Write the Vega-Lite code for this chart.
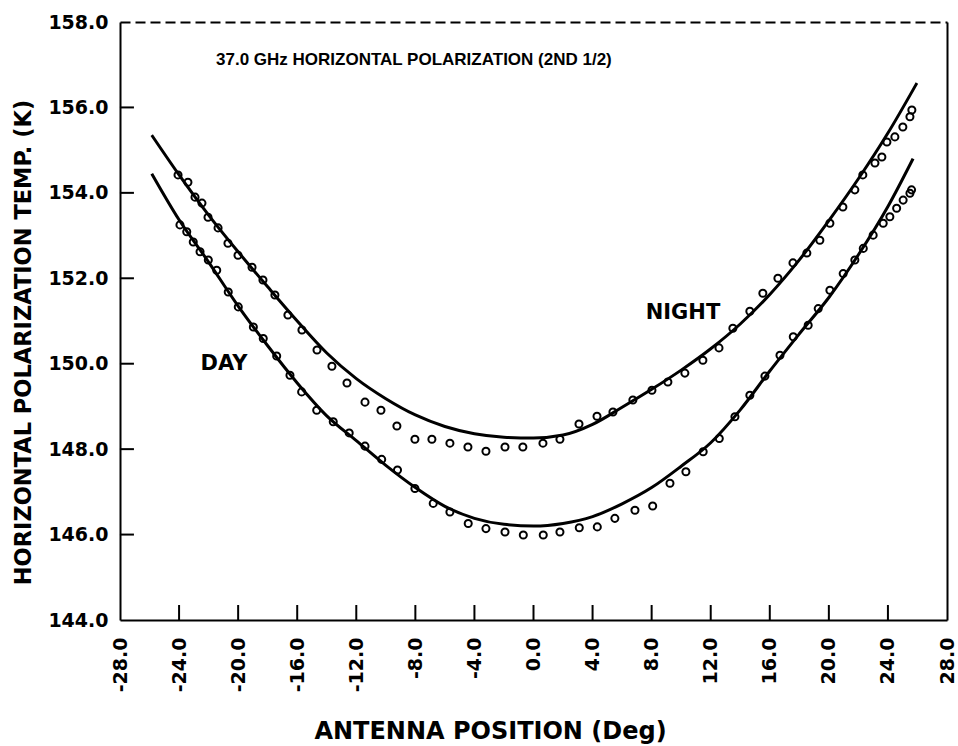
{
  "$schema": "https://vega.github.io/schema/vega-lite/v6.json",
  "width": 827,
  "height": 598,
  "autosize": {"type": "none"},
  "padding": {"left": 120, "top": 22, "right": 11, "bottom": 126},
  "background": "white",
  "config": {"view": {"stroke": null}, "font": "DejaVu Sans"},
  "datasets": {
    "fits": [
      {"series": "Night", "x": -25.85, "y": 155.35},
      {"series": "Night", "x": -24, "y": 154.42},
      {"series": "Night", "x": -22, "y": 153.48},
      {"series": "Night", "x": -20, "y": 152.62},
      {"series": "Night", "x": -18, "y": 151.8},
      {"series": "Night", "x": -16, "y": 151.0},
      {"series": "Night", "x": -14, "y": 150.25},
      {"series": "Night", "x": -12, "y": 149.65},
      {"series": "Night", "x": -10, "y": 149.18},
      {"series": "Night", "x": -8, "y": 148.8},
      {"series": "Night", "x": -6, "y": 148.53},
      {"series": "Night", "x": -4, "y": 148.36},
      {"series": "Night", "x": -2, "y": 148.28},
      {"series": "Night", "x": 0, "y": 148.26},
      {"series": "Night", "x": 2, "y": 148.33},
      {"series": "Night", "x": 4, "y": 148.58},
      {"series": "Night", "x": 6, "y": 148.98},
      {"series": "Night", "x": 8, "y": 149.4},
      {"series": "Night", "x": 10, "y": 149.85},
      {"series": "Night", "x": 12, "y": 150.35},
      {"series": "Night", "x": 14, "y": 150.93},
      {"series": "Night", "x": 16, "y": 151.62},
      {"series": "Night", "x": 18, "y": 152.43},
      {"series": "Night", "x": 20, "y": 153.35},
      {"series": "Night", "x": 22, "y": 154.33},
      {"series": "Night", "x": 24, "y": 155.4},
      {"series": "Night", "x": 25.96, "y": 156.57},
      {"series": "Day", "x": -25.85, "y": 154.45},
      {"series": "Day", "x": -24, "y": 153.37},
      {"series": "Day", "x": -22, "y": 152.38},
      {"series": "Day", "x": -20, "y": 151.35},
      {"series": "Day", "x": -18, "y": 150.42},
      {"series": "Day", "x": -16, "y": 149.55},
      {"series": "Day", "x": -14, "y": 148.78},
      {"series": "Day", "x": -12, "y": 148.2},
      {"series": "Day", "x": -10, "y": 147.62},
      {"series": "Day", "x": -8, "y": 147.1},
      {"series": "Day", "x": -6, "y": 146.66},
      {"series": "Day", "x": -4, "y": 146.38},
      {"series": "Day", "x": -2, "y": 146.24},
      {"series": "Day", "x": 0, "y": 146.2},
      {"series": "Day", "x": 2, "y": 146.26},
      {"series": "Day", "x": 4, "y": 146.42},
      {"series": "Day", "x": 6, "y": 146.72},
      {"series": "Day", "x": 8, "y": 147.1},
      {"series": "Day", "x": 10, "y": 147.6},
      {"series": "Day", "x": 12, "y": 148.15},
      {"series": "Day", "x": 14, "y": 148.92},
      {"series": "Day", "x": 16, "y": 149.83},
      {"series": "Day", "x": 18, "y": 150.7},
      {"series": "Day", "x": 20, "y": 151.55},
      {"series": "Day", "x": 22, "y": 152.55},
      {"series": "Day", "x": 24, "y": 153.68},
      {"series": "Day", "x": 25.7, "y": 154.8}
    ],
    "obs": [
      {"series": "Night", "x": -24.07, "y": 154.42},
      {"series": "Night", "x": -23.4, "y": 154.25},
      {"series": "Night", "x": -22.92, "y": 153.9},
      {"series": "Night", "x": -22.45, "y": 153.76},
      {"series": "Night", "x": -22.04, "y": 153.43},
      {"series": "Night", "x": -21.36, "y": 153.18},
      {"series": "Night", "x": -20.69, "y": 152.82},
      {"series": "Night", "x": -20.01, "y": 152.54},
      {"series": "Night", "x": -19.06, "y": 152.26},
      {"series": "Night", "x": -18.32, "y": 151.96},
      {"series": "Night", "x": -17.51, "y": 151.61},
      {"series": "Night", "x": -16.63, "y": 151.14},
      {"series": "Night", "x": -15.68, "y": 150.79},
      {"series": "Night", "x": -14.66, "y": 150.32},
      {"series": "Night", "x": -13.65, "y": 149.94},
      {"series": "Night", "x": -12.63, "y": 149.55},
      {"series": "Night", "x": -11.41, "y": 149.1},
      {"series": "Night", "x": -10.33, "y": 148.91},
      {"series": "Night", "x": -9.25, "y": 148.54},
      {"series": "Night", "x": -8.03, "y": 148.23},
      {"series": "Night", "x": -6.88, "y": 148.23},
      {"series": "Night", "x": -5.66, "y": 148.14},
      {"series": "Night", "x": -4.44, "y": 148.05},
      {"series": "Night", "x": -3.22, "y": 147.95},
      {"series": "Night", "x": -1.93, "y": 148.05},
      {"series": "Night", "x": -0.72, "y": 148.05},
      {"series": "Night", "x": 0.64, "y": 148.14},
      {"series": "Night", "x": 1.79, "y": 148.23},
      {"series": "Night", "x": 3.08, "y": 148.59},
      {"series": "Night", "x": 4.3, "y": 148.77},
      {"series": "Night", "x": 5.38, "y": 148.87},
      {"series": "Night", "x": 6.73, "y": 149.15},
      {"series": "Night", "x": 8.02, "y": 149.38},
      {"series": "Night", "x": 9.1, "y": 149.57},
      {"series": "Night", "x": 10.25, "y": 149.78},
      {"series": "Night", "x": 11.47, "y": 150.08},
      {"series": "Night", "x": 12.56, "y": 150.37},
      {"series": "Night", "x": 13.5, "y": 150.83},
      {"series": "Night", "x": 14.65, "y": 151.23},
      {"series": "Night", "x": 15.53, "y": 151.65},
      {"series": "Night", "x": 16.55, "y": 152.0},
      {"series": "Night", "x": 17.57, "y": 152.36},
      {"series": "Night", "x": 18.51, "y": 152.59},
      {"series": "Night", "x": 19.39, "y": 152.89},
      {"series": "Night", "x": 20.07, "y": 153.29},
      {"series": "Night", "x": 20.95, "y": 153.67},
      {"series": "Night", "x": 21.76, "y": 154.07},
      {"series": "Night", "x": 22.3, "y": 154.42},
      {"series": "Night", "x": 23.12, "y": 154.7},
      {"series": "Night", "x": 23.59, "y": 154.84},
      {"series": "Night", "x": 23.93, "y": 155.19},
      {"series": "Night", "x": 24.47, "y": 155.31},
      {"series": "Night", "x": 25.01, "y": 155.54},
      {"series": "Night", "x": 25.49, "y": 155.78},
      {"series": "Night", "x": 25.62, "y": 155.94},
      {"series": "Day", "x": -23.94, "y": 153.25},
      {"series": "Day", "x": -23.48, "y": 153.09},
      {"series": "Day", "x": -23.04, "y": 152.85},
      {"series": "Day", "x": -22.58, "y": 152.62},
      {"series": "Day", "x": -22.02, "y": 152.43},
      {"series": "Day", "x": -21.45, "y": 152.19},
      {"series": "Day", "x": -20.67, "y": 151.68},
      {"series": "Day", "x": -19.99, "y": 151.33},
      {"series": "Day", "x": -18.97, "y": 150.86},
      {"series": "Day", "x": -18.3, "y": 150.59},
      {"series": "Day", "x": -17.39, "y": 150.18},
      {"series": "Day", "x": -16.49, "y": 149.73},
      {"series": "Day", "x": -15.7, "y": 149.34},
      {"series": "Day", "x": -14.68, "y": 148.91},
      {"series": "Day", "x": -13.56, "y": 148.64},
      {"series": "Day", "x": -12.48, "y": 148.38},
      {"series": "Day", "x": -11.41, "y": 148.07},
      {"series": "Day", "x": -10.28, "y": 147.76},
      {"series": "Day", "x": -9.21, "y": 147.51},
      {"series": "Day", "x": -8.03, "y": 147.08},
      {"series": "Day", "x": -6.79, "y": 146.73},
      {"series": "Day", "x": -5.66, "y": 146.53},
      {"series": "Day", "x": -4.42, "y": 146.26},
      {"series": "Day", "x": -3.22, "y": 146.14},
      {"series": "Day", "x": -1.93, "y": 146.06},
      {"series": "Day", "x": -0.69, "y": 145.99},
      {"series": "Day", "x": 0.66, "y": 145.99},
      {"series": "Day", "x": 1.79, "y": 146.06},
      {"series": "Day", "x": 3.1, "y": 146.16},
      {"series": "Day", "x": 4.32, "y": 146.18},
      {"series": "Day", "x": 5.51, "y": 146.38},
      {"series": "Day", "x": 6.87, "y": 146.57},
      {"series": "Day", "x": 8.07, "y": 146.67},
      {"series": "Day", "x": 9.24, "y": 147.2},
      {"series": "Day", "x": 10.32, "y": 147.47},
      {"series": "Day", "x": 11.49, "y": 147.94},
      {"series": "Day", "x": 12.58, "y": 148.25},
      {"series": "Day", "x": 13.64, "y": 148.76},
      {"series": "Day", "x": 14.65, "y": 149.26},
      {"series": "Day", "x": 15.67, "y": 149.71},
      {"series": "Day", "x": 16.69, "y": 150.2},
      {"series": "Day", "x": 17.59, "y": 150.63},
      {"series": "Day", "x": 18.6, "y": 150.9},
      {"series": "Day", "x": 19.28, "y": 151.29},
      {"series": "Day", "x": 20.07, "y": 151.72},
      {"series": "Day", "x": 20.97, "y": 152.11},
      {"series": "Day", "x": 21.76, "y": 152.43},
      {"series": "Day", "x": 22.33, "y": 152.7},
      {"series": "Day", "x": 23.0, "y": 153.01},
      {"series": "Day", "x": 23.68, "y": 153.29},
      {"series": "Day", "x": 24.13, "y": 153.44},
      {"series": "Day", "x": 24.59, "y": 153.64},
      {"series": "Day", "x": 25.03, "y": 153.83},
      {"series": "Day", "x": 25.49, "y": 153.99},
      {"series": "Day", "x": 25.6, "y": 154.07}
    ],
    "heading": [
      {"text": "37.0 GHz HORIZONTAL POLARIZATION (2ND 1/2)", "x": -8.1, "y": 157.1}
    ],
    "curvelabels": [
      {"text": "NIGHT", "x": 10.12, "y": 151.18},
      {"text": "DAY", "x": -20.96, "y": 149.99}
    ]
  },
  "resolve": {"axis": {"x": "independent", "y": "independent"}},
  "layer": [
    {
      "data": {"name": "fits"},
      "mark": {"type": "line", "interpolate": "monotone", "strokeWidth": 3, "color": "black"},
      "encoding": {
        "x": {
          "field": "x", "type": "quantitative",
          "scale": {"domain": [-28, 28], "nice": false, "zero": false},
          "axis": {
            "orient": "bottom",
            "values": [-28, -24, -20, -16, -12, -8, -4, 0, 4, 8, 12, 16, 20, 24, 28],
            "labelExpr": "(datum.value < 0 ? '-' : '') + format(abs(datum.value), '.1f')",
            "labelAngle": -90,
            "labelFont": "DejaVu Sans",
            "labelFontSize": 19,
            "labelFontWeight": "bold",
            "labelColor": "black",
            "labelPadding": 17,
            "labelFlush": false,
            "labelOverlap": false,
            "labelBound": false,
            "ticks": false,
            "domainColor": "black",
            "domainWidth": 2,
            "grid": false,
            "title": "ANTENNA POSITION (Deg)",
            "titleFont": "DejaVu Sans",
            "titleFontSize": 24,
            "titleFontWeight": "bold",
            "titleColor": "black",
            "titleX": 370,
            "titleY": 111,
            "titleAlign": "center",
            "titleBaseline": "middle"
          }
        },
        "y": {
          "field": "y", "type": "quantitative",
          "scale": {"domain": [144, 158], "nice": false, "zero": false},
          "axis": {
            "orient": "left",
            "values": [144, 146, 148, 150, 152, 154, 156, 158],
            "labelExpr": "format(datum.value, '.1f')",
            "labelFont": "DejaVu Sans",
            "labelFontSize": 19,
            "labelFontWeight": "bold",
            "labelColor": "black",
            "labelPadding": 12,
            "labelFlush": false,
            "labelOverlap": false,
            "labelBound": false,
            "ticks": false,
            "domainColor": "black",
            "domainWidth": 2,
            "grid": false,
            "title": "HORIZONTAL POLARIZATION TEMP. (K)",
            "titleFont": "DejaVu Sans",
            "titleFontSize": 22.5,
            "titleFontWeight": "bold",
            "titleColor": "black",
            "titleAngle": -90,
            "titleX": -97,
            "titleY": 320,
            "titleAlign": "center",
            "titleBaseline": "middle"
          }
        },
        "detail": {"field": "series", "type": "nominal"}
      }
    },
    {
      "data": {"name": "obs"},
      "mark": {"type": "point", "shape": "circle", "filled": false, "size": 50, "strokeWidth": 2, "color": "black", "opacity": 1},
      "encoding": {
        "x": {
          "field": "x", "type": "quantitative",
          "axis": {"orient": "top", "labels": false, "ticks": false, "grid": false, "title": null, "domainColor": "black", "domainWidth": 2, "domainDash": [10, 5]}
        },
        "y": {
          "field": "y", "type": "quantitative",
          "axis": {"orient": "right", "labels": false, "ticks": false, "grid": false, "title": null, "domainColor": "black", "domainWidth": 2}
        },
        "detail": {"field": "series", "type": "nominal"}
      }
    },
    {
      "data": {"values": [
        {"tick": -24}, {"tick": -20}, {"tick": -16}, {"tick": -12}, {"tick": -8}, {"tick": -4}, {"tick": 0},
        {"tick": 4}, {"tick": 8}, {"tick": 12}, {"tick": 16}, {"tick": 20}, {"tick": 24}
      ]},
      "mark": {"type": "tick", "orient": "vertical", "size": 15, "thickness": 2, "color": "black", "opacity": 1},
      "encoding": {
        "x": {"field": "tick", "type": "quantitative", "axis": null},
        "y": {"datum": 144.175, "type": "quantitative", "axis": null}
      }
    },
    {
      "data": {"values": [
        {"tick": 146}, {"tick": 148}, {"tick": 150}, {"tick": 152}, {"tick": 154}, {"tick": 156}
      ]},
      "mark": {"type": "tick", "orient": "horizontal", "size": 14, "thickness": 2, "color": "black", "opacity": 1},
      "encoding": {
        "y": {"field": "tick", "type": "quantitative", "axis": null},
        "x": {"datum": -27.53, "type": "quantitative", "axis": null}
      }
    },
    {
      "data": {"name": "heading"},
      "mark": {"type": "text", "font": "Liberation Sans", "fontWeight": "bold", "fontSize": 17, "align": "center", "baseline": "middle", "color": "black"},
      "encoding": {
        "x": {"field": "x", "type": "quantitative", "axis": null},
        "y": {"field": "y", "type": "quantitative", "axis": null},
        "text": {"field": "text", "type": "nominal"}
      }
    },
    {
      "data": {"name": "curvelabels"},
      "mark": {"type": "text", "font": "DejaVu Sans", "fontWeight": "bold", "fontSize": 21, "align": "center", "baseline": "middle", "color": "black"},
      "encoding": {
        "x": {"field": "x", "type": "quantitative", "axis": null},
        "y": {"field": "y", "type": "quantitative", "axis": null},
        "text": {"field": "text", "type": "nominal"}
      }
    }
  ]
}
